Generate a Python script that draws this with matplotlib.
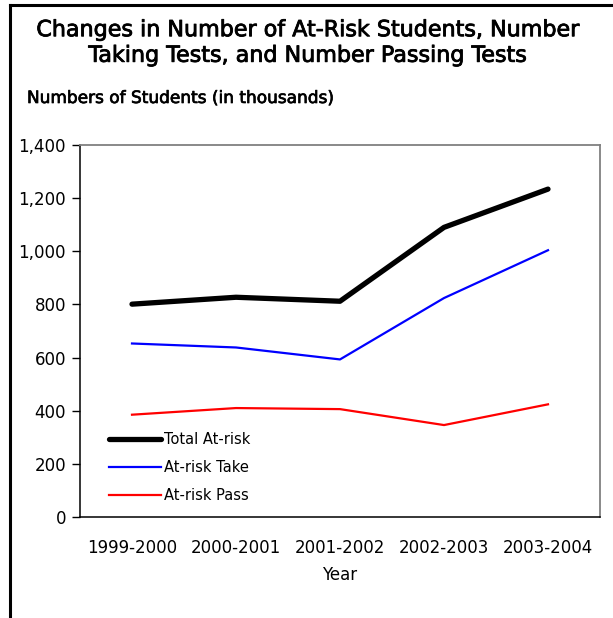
import matplotlib
matplotlib.use("Agg")
import matplotlib.pyplot as plt
import matplotlib.patheffects as pe
from matplotlib.lines import Line2D

years = ["1999-2000", "2000-2001", "2001-2002", "2002-2003", "2003-2004"]
total_at_risk = [801, 827, 812, 1090, 1234]
at_risk_take = [653, 638, 593, 824, 1004]
at_risk_pass = [385, 410, 406, 346, 424]
y_ticks = [0, 200, 400, 600, 800, 1000, 1200, 1400]

plt.rcParams["font.family"] = ["DejaVu Sans"]

fig = plt.figure(figsize=(6.13, 6.18), dpi=100)
ax = fig.add_axes([80 / 613, 101 / 618, 520 / 613, 372 / 618])

x = list(range(len(years)))
ax.plot(x, total_at_risk, color="black", lw=3.8, solid_capstyle="round", label="Total At-risk")
ax.plot(x, at_risk_take, color="#0000ff", lw=1.6, label="At-risk Take")
ax.plot(x, at_risk_pass, color="#ff0000", lw=1.6, label="At-risk Pass")

ax.set_xlim(-0.5, len(years) - 0.5)
ax.set_ylim(0, 1400)
ax.set_yticks(y_ticks)
ax.set_yticklabels([f"{v:,}" for v in y_ticks], fontsize=12)
ax.set_xticks(x)
ax.set_xticklabels(years, fontsize=12)
ax.tick_params(axis="x", length=0, pad=16)
ax.tick_params(axis="y", length=6, width=1, direction="out", pad=4)

for side in ("top", "right"):
    ax.spines[side].set_color("#808080")
    ax.spines[side].set_linewidth(1.3)
for side in ("left", "bottom"):
    ax.spines[side].set_color("black")
    ax.spines[side].set_linewidth(1.1)

ax.set_xlabel("Year", fontsize=12, labelpad=6)

leg = ax.legend(loc="lower left", bbox_to_anchor=(0.044, 0.022), frameon=False,
                fontsize=10.5, handlelength=3.6, handletextpad=0.2, labelspacing=0.9,
                borderaxespad=0)

fig.text(0.503, 1 - 43 / 618,
         "Changes in Number of At-Risk Students, Number\nTaking Tests, and Number Passing Tests",
         ha="center", va="center", fontsize=16, linespacing=1.35,
         path_effects=[pe.withStroke(linewidth=0.6, foreground="black")])
fig.text(27 / 613, 1 - 98 / 618, "Numbers of Students (in thousands)", ha="left", va="center",
         fontsize=12.2, path_effects=[pe.withStroke(linewidth=0.5, foreground="black")])

# frame lines along the top and left edges of the page
fig.add_artist(Line2D([10 / 613, 1.0], [1 - 5 / 618, 1 - 5 / 618], color="black", lw=2.2,
                      transform=fig.transFigure))
fig.add_artist(Line2D([10 / 613, 10 / 613], [0, 1 - 5 / 618], color="black", lw=2.2,
                      transform=fig.transFigure))

fig.savefig("out.png", dpi=100)
